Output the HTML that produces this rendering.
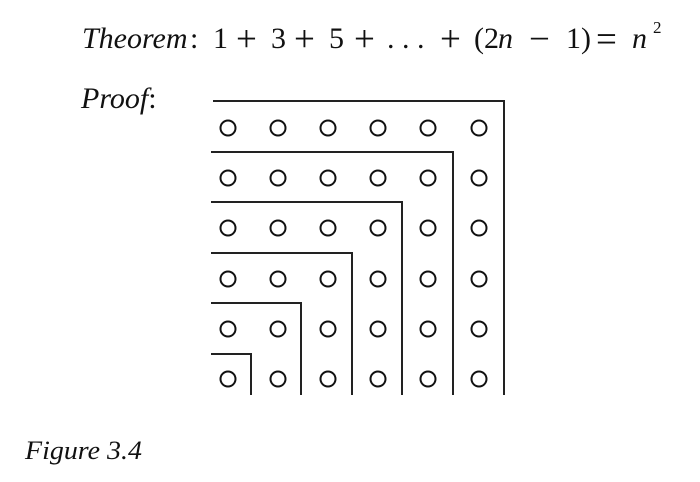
<!DOCTYPE html>
<html><head><style>body{margin:0;background:#fff}svg{display:block}</style></head>
<body>
<svg width="700" height="482" xmlns="http://www.w3.org/2000/svg" font-family="Liberation Serif, serif" fill="#111">
<text y="48" font-size="30"><tspan x="82" font-style="italic">Theorem</tspan><tspan x="190">:</tspan><tspan x="213">1</tspan><tspan x="271">3</tspan><tspan x="329">5</tspan><tspan x="387">. . .</tspan><tspan x="474">(2</tspan><tspan x="498" font-style="italic">n</tspan><tspan x="566">1)</tspan><tspan x="632" font-style="italic">n</tspan></text>
<text y="51" font-size="37"><tspan x="236">+</tspan><tspan x="294">+</tspan><tspan x="354">+</tspan><tspan x="440">+</tspan><tspan x="529">−</tspan><tspan x="596">=</tspan></text>
<text x="653" y="33" font-size="17">2</text>
<text x="81" y="108" font-size="30" font-style="italic">Proof<tspan font-style="normal">:</tspan></text>
<text x="25" y="459" font-size="26" font-style="italic" textLength="117" lengthAdjust="spacingAndGlyphs">Figure 3.4</text>
<g stroke="#222" stroke-width="2" fill="none">
<polyline points="213,101 504,101 504,395"/>
<polyline points="211,152 453,152 453,395"/>
<polyline points="211,202 402,202 402,395"/>
<polyline points="211,253 352,253 352,395"/>
<polyline points="211,303 301,303 301,395"/>
<polyline points="211,354 251,354 251,395"/>
</g>
<g stroke="#111" stroke-width="2" fill="none">
<circle cx="228" cy="128" r="7.5"/><circle cx="278" cy="128" r="7.5"/><circle cx="328" cy="128" r="7.5"/><circle cx="378" cy="128" r="7.5"/><circle cx="428" cy="128" r="7.5"/><circle cx="479" cy="128" r="7.5"/>
<circle cx="228" cy="178" r="7.5"/><circle cx="278" cy="178" r="7.5"/><circle cx="328" cy="178" r="7.5"/><circle cx="378" cy="178" r="7.5"/><circle cx="428" cy="178" r="7.5"/><circle cx="479" cy="178" r="7.5"/>
<circle cx="228" cy="228" r="7.5"/><circle cx="278" cy="228" r="7.5"/><circle cx="328" cy="228" r="7.5"/><circle cx="378" cy="228" r="7.5"/><circle cx="428" cy="228" r="7.5"/><circle cx="479" cy="228" r="7.5"/>
<circle cx="228" cy="279" r="7.5"/><circle cx="278" cy="279" r="7.5"/><circle cx="328" cy="279" r="7.5"/><circle cx="378" cy="279" r="7.5"/><circle cx="428" cy="279" r="7.5"/><circle cx="479" cy="279" r="7.5"/>
<circle cx="228" cy="329" r="7.5"/><circle cx="278" cy="329" r="7.5"/><circle cx="328" cy="329" r="7.5"/><circle cx="378" cy="329" r="7.5"/><circle cx="428" cy="329" r="7.5"/><circle cx="479" cy="329" r="7.5"/>
<circle cx="228" cy="379" r="7.5"/><circle cx="278" cy="379" r="7.5"/><circle cx="328" cy="379" r="7.5"/><circle cx="378" cy="379" r="7.5"/><circle cx="428" cy="379" r="7.5"/><circle cx="479" cy="379" r="7.5"/>
</g>
</svg>
</body></html>
